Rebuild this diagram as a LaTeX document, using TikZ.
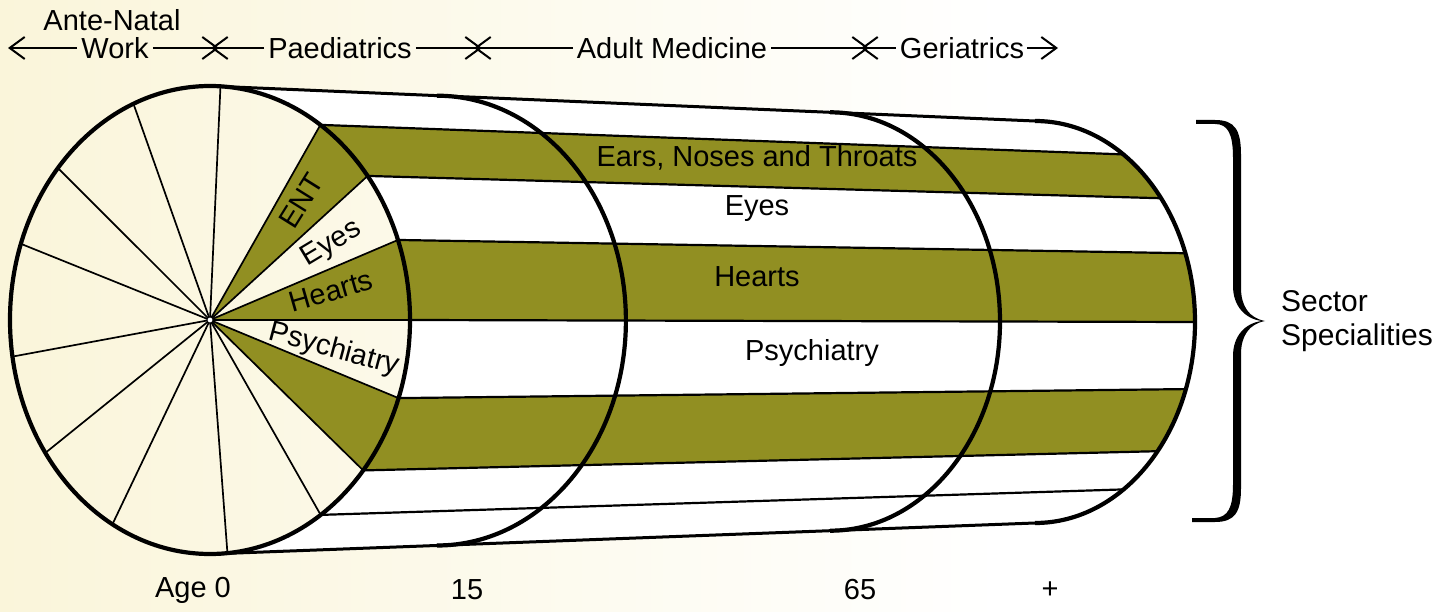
\documentclass[tikz,border=0pt]{standalone}
\usepackage{fontspec}
\setmainfont{Liberation Sans}
\usetikzlibrary{arrows.meta}
\definecolor{olivebd}{RGB}{145,143,34}
\definecolor{creambg}{RGB}{250,245,218}
\begin{document}
\begin{tikzpicture}[x=1pt,y=-1pt,
  lbl/.style={font=\fontsize{29}{33}\selectfont, inner sep=0pt},
  outline/.style={line width=4.2pt},
  edgeline/.style={line width=3pt},
  bandline/.style={line width=2.2pt},
  spokeline/.style={line width=1.7pt},
  barb/.style={line width=1.8pt,-{Straight Barb[length=15pt,width=22pt,line width=2pt]}}]
\useasboundingbox (0,0) rectangle (1448,612);
\fill[white] (0,0) rectangle (1448,612);
\shade[left color=creambg, right color=white] (0,0) rectangle (1000,612);

% key points
\coordinate (C) at (210,320);
\foreach \a [count=\i] in {90,56.5,38,20,0,-19.5,-40,-56.4,-90}{
  \coordinate (F\i) at ({210+200*cos(\a)},{320-234*sin(\a)});
  \coordinate (E\i) at ({1035+160*cos(\a)},{322-201*sin(\a)});
}
\coordinate (R2top) at (436.9,95.7);
\coordinate (R3top) at (830.1,112.3);

% cylinder body
\fill[white] (F1) -- (E1) arc[start angle=-90,end angle=90,x radius=160,y radius=201]
  -- (F9) arc[start angle=90,end angle=-90,x radius=200,y radius=234] -- cycle;
\fill[olivebd] (F2) -- (E2) arc[start angle=-56.5,end angle=-38,x radius=160,y radius=201]
  -- (F3) arc[start angle=-38,end angle=-56.5,x radius=200,y radius=234] -- cycle;
\fill[olivebd] (F4) -- (E4) arc[start angle=-20,end angle=0,x radius=160,y radius=201]
  -- (F5) arc[start angle=0,end angle=-20,x radius=200,y radius=234] -- cycle;
\fill[olivebd] (F6) -- (E6) arc[start angle=19.5,end angle=40,x radius=160,y radius=201]
  -- (F7) arc[start angle=40,end angle=19.5,x radius=200,y radius=234] -- cycle;
\foreach \i in {2,...,8}{ \draw[bandline] (F\i) -- (E\i); }
\draw[edgeline] (F1) -- (E1);
\draw[edgeline] (F9) -- (E9);
\draw[outline] (R2top) arc[start angle=-90,end angle=90,x radius=189,y radius=224.9];
\draw[outline] (R3top) arc[start angle=-90,end angle=90,x radius=169.9,y radius=209.2];
\draw[outline] (E1) arc[start angle=-90,end angle=90,x radius=160,y radius=201];

% front face
\fill[olivebd] (C) -- (F3) arc[start angle=-38,end angle=-56.5,x radius=200,y radius=234] -- cycle;
\fill[olivebd] (C) -- (F5) arc[start angle=0,end angle=-20,x radius=200,y radius=234] -- cycle;
\fill[olivebd] (C) -- (F7) arc[start angle=40,end angle=19.5,x radius=200,y radius=234] -- cycle;
\foreach \a in {0,20,38,56.5,87,112.5,139.5,161,189,214.6,240.8,275,303.6,320,340.5}
  \draw[spokeline] (C) -- ({210+200*cos(\a)},{320-234*sin(\a)});
\draw[outline] (C) ellipse[x radius=200,y radius=234];
\filldraw[fill=white,draw=black,line width=0.8pt] (C) circle (3);

% face labels
\node[lbl,rotate=58] (pENT) at (301,201) {ENT};
\node[lbl,rotate=31] (pEyes) at (332,244) {Eyes};
\node[lbl,rotate=16] (pHearts) at (331,291) {Hearts};
\node[lbl,rotate=-15] (pPsy) at (334,350) {Psychiatry};

% band labels
\node[lbl] (cENT) at (757,158) {Ears, Noses and Throats};
\node[lbl] (cEyes) at (757,209) {Eyes};
\node[lbl] (cHearts) at (757,277) {Hearts};
\node[lbl] (cPsy) at (812,353) {Psychiatry};

% header
\node[lbl] (ante) at (112,20) {Ante-Natal};
\node[lbl] (work) at (115,48) {Work};
\node[lbl] (paed) at (340,48) {Paediatrics};
\node[lbl] (adult) at (672,48) {Adult Medicine};
\node[lbl] (geri) at (962,48) {Geriatrics};
\coordinate (h0) at (8,48);
\coordinate (x1a) at (219,48); \coordinate (x1b) at (211,48);
\coordinate (x2a) at (482,48); \coordinate (x2b) at (474,48);
\coordinate (x3a) at (869,48); \coordinate (x3b) at (861,48);
\coordinate (hend) at (1058,48);
\draw[barb] ([xshift=-4pt]work.west) -- (h0);
\draw[barb] ([xshift=4pt]work.east) -- (x1a);
\draw[barb] ([xshift=-4pt]paed.west) -- (x1b);
\draw[barb] ([xshift=4pt]paed.east) -- (x2a);
\draw[barb] ([xshift=-4pt]adult.west) -- (x2b);
\draw[barb] ([xshift=4pt]adult.east) -- (x3a);
\draw[barb] ([xshift=-4pt]geri.west) -- (x3b);
\draw[barb] ([xshift=3pt]geri.east) -- (hend);

% ages
\node[lbl] (age0) at (193,590) {Age 0};
\node[lbl] (age15) at (467,590) {15};
\node[lbl] (age65) at (860,590) {65};
\node[lbl] (ageplus) at (1050,590) {+};

% brace
\fill (1196,120) -- (1215,120) .. controls (1235,120) and (1241,130) .. (1241,155) -- (1241,288)
  .. controls (1241,306) and (1249,318) .. (1265,321)
  .. controls (1249,324) and (1241,336) .. (1241,354) -- (1241,488)
  .. controls (1241,512) and (1235,522) .. (1215,522) -- (1192,522) -- (1192,518) -- (1215,518)
  .. controls (1228,517) and (1233,508) .. (1233,484) -- (1233,356)
  .. controls (1233,336) and (1245,323) .. (1262,321)
  .. controls (1245,319) and (1233,306) .. (1233,286) -- (1233,158)
  .. controls (1233,134) and (1228,124) .. (1215,124) -- (1196,124) -- cycle;
\node[lbl,anchor=west,align=left,font=\fontsize{30}{34}\selectfont] (sector) at (1281,321) {Sector\\Specialities};
\end{tikzpicture}
\end{document}
